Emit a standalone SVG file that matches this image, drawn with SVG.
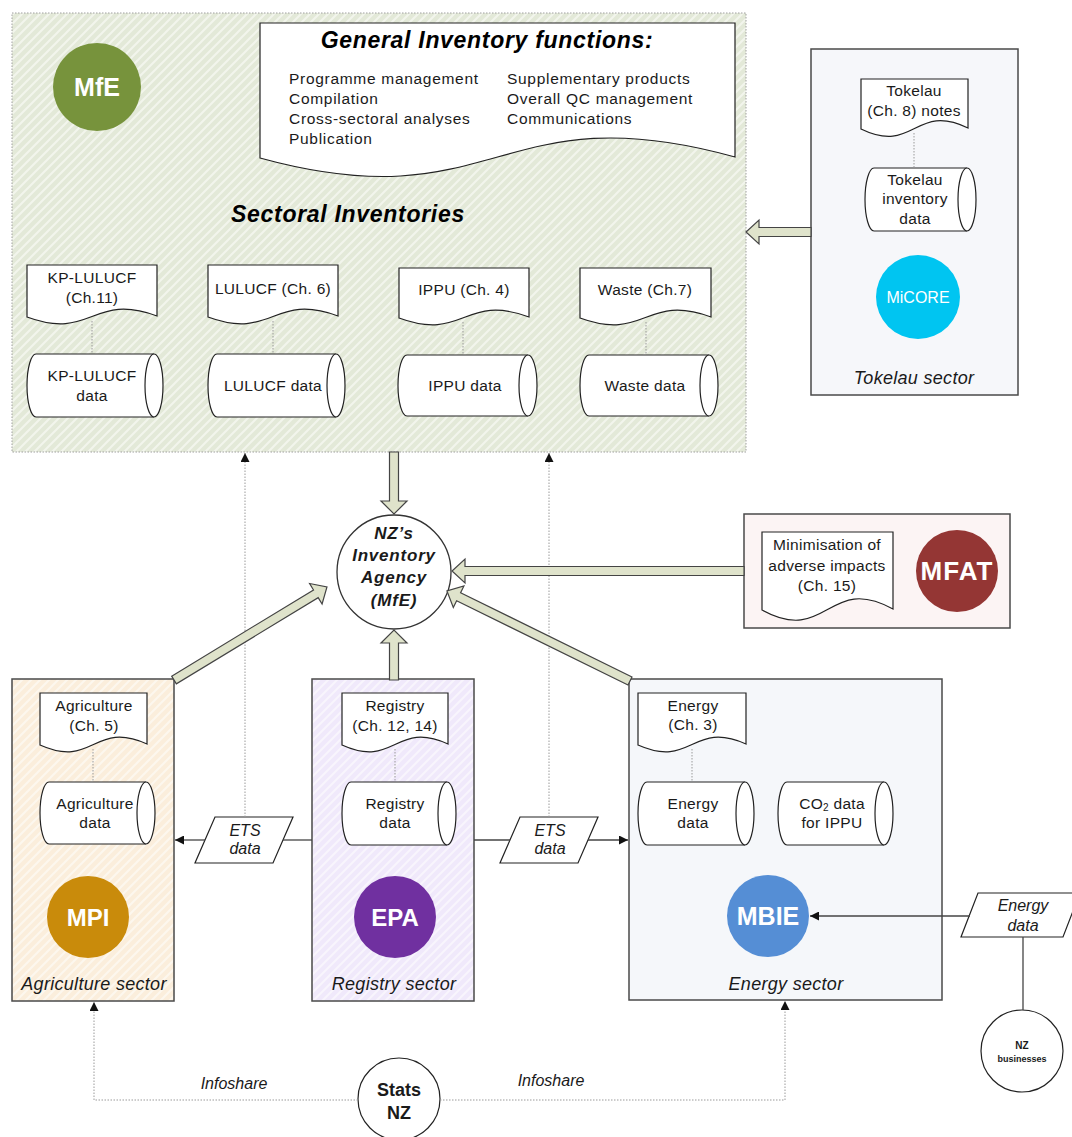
<svg xmlns="http://www.w3.org/2000/svg" width="1072" height="1137" viewBox="0 0 1072 1137">
<defs>
<pattern id="hatchG" patternUnits="userSpaceOnUse" width="9" height="9">
<rect width="9" height="9" fill="#e3e9d8"/>
<path d="M-2.25,2.25 l4.5,-4.5 M0,9 l9,-9 M6.75,11.25 l4.5,-4.5" stroke="#f2f5ec" stroke-width="2.2"/>
</pattern>
<pattern id="hatchO" patternUnits="userSpaceOnUse" width="9" height="9">
<rect width="9" height="9" fill="#fbeedc"/>
<path d="M-2.25,2.25 l4.5,-4.5 M0,9 l9,-9 M6.75,11.25 l4.5,-4.5" stroke="#fdf7ee" stroke-width="2.2"/>
</pattern>
<pattern id="hatchP" patternUnits="userSpaceOnUse" width="9" height="9">
<rect width="9" height="9" fill="#f0e9fb"/>
<path d="M-2.25,2.25 l4.5,-4.5 M0,9 l9,-9 M6.75,11.25 l4.5,-4.5" stroke="#f8f5fd" stroke-width="2.2"/>
</pattern>
<marker id="arr" viewBox="0 0 10 10" refX="10" refY="5" markerWidth="10" markerHeight="9" markerUnits="userSpaceOnUse" orient="auto">
<path d="M0,0 L10,5 L0,10 Z" fill="#111"/>
</marker>
<style>
text{font-family:"Liberation Sans",Arial,sans-serif;fill:#1a1a1a;text-anchor:middle;dominant-baseline:central}
.s{font-size:15.5px;letter-spacing:0.3px}
.l{font-size:15.5px;letter-spacing:0.7px;text-anchor:start}
.h{font-size:23px;font-weight:bold;font-style:italic;letter-spacing:0.7px;fill:#000}
.sec{font-size:18px;font-style:italic;letter-spacing:0.3px}
.it{font-size:16px;font-style:italic}
.org{font-weight:bold;fill:#fff;font-size:25px}
.box{stroke:#4a4a4a;stroke-width:1.5}
.shape{fill:#fff;stroke:#222;stroke-width:1.2}
.dot{stroke:#9a9a9a;stroke-width:1;stroke-dasharray:1.5 1.5;fill:none}
.ln{stroke:#444;stroke-width:1.3;fill:none}
.blk{fill:#dfe3cb;stroke:#444;stroke-width:1.2}
</style>
</defs>
<rect width="1072" height="1137" fill="#fff"/>

<g id="mfe-box">
<rect x="12" y="13" width="734" height="439" fill="url(#hatchG)" stroke="#a0a0a0" stroke-width="1" stroke-dasharray="1.5 1.5"/>
<text class="h" x="348" y="214">Sectoral Inventories</text>
</g>
<g id="mfe">
<circle cx="97" cy="87" r="44" fill="#77933c"/>
<text class="org" x="97" y="87">MfE</text>
</g>
<g id="general-functions">
<path class="shape" d="M260,23 H735 V157 C497,91 497,223 260,158 Z"/>
<text class="h" x="487" y="40">General Inventory functions:</text>
<text class="l" x="289" y="78">Programme management</text>
<text class="l" x="289" y="98">Compilation</text>
<text class="l" x="289" y="118">Cross-sectoral analyses</text>
<text class="l" x="289" y="138">Publication</text>
<text class="l" x="507" y="78">Supplementary products</text>
<text class="l" x="507" y="98">Overall QC management</text>
<text class="l" x="507" y="118">Communications</text>
</g>

<g id="kp-doc">
<path class="shape" d="M27,265 H157 V316 C92,292 92,341 27,317 Z"/>
<text class="s" x="92" y="277">KP-LULUCF</text>
<text class="s" x="92" y="297">(Ch.11)</text>
</g>
<g id="kp-data">
<path class="shape" d="M36,354 H154 A9,31.5 0 0 1 154,417 H36 A9,31.5 0 0 1 36,354 Z"/>
<path class="shape" d="M154,354 A9,31.5 0 0 0 154,417"/>
<text class="s" x="92" y="375">KP-LULUCF</text>
<text class="s" x="92" y="395">data</text>
</g>
<g id="lulucf-doc">
<path class="shape" d="M208,265 H338 V316 C273,292 273,341 208,317 Z"/>
<text class="s" x="273" y="288">LULUCF (Ch. 6)</text>
</g>
<g id="lulucf-data">
<path class="shape" d="M217,354 H336 A9,31.5 0 0 1 336,417 H217 A9,31.5 0 0 1 217,354 Z"/>
<path class="shape" d="M336,354 A9,31.5 0 0 0 336,417"/>
<text class="s" x="273" y="385">LULUCF data</text>
</g>
<g id="ippu-doc">
<path class="shape" d="M399,268 H529 V317 C464,293 464,342 399,318 Z"/>
<text class="s" x="464" y="289">IPPU (Ch. 4)</text>
</g>
<g id="ippu-data">
<path class="shape" d="M407,355 H528 A9,30.5 0 0 1 528,416 H407 A9,30.5 0 0 1 407,355 Z"/>
<path class="shape" d="M528,355 A9,30.5 0 0 0 528,416"/>
<text class="s" x="465" y="385">IPPU data</text>
</g>
<g id="waste-doc">
<path class="shape" d="M580,268 H711 V317 C645.5,293 645.5,342 580,318 Z"/>
<text class="s" x="645" y="289">Waste (Ch.7)</text>
</g>
<g id="waste-data">
<path class="shape" d="M589,355 H709 A9,30.5 0 0 1 709,416 H589 A9,30.5 0 0 1 589,355 Z"/>
<path class="shape" d="M709,355 A9,30.5 0 0 0 709,416"/>
<text class="s" x="645" y="385">Waste data</text>
</g>

<g id="tokelau-box">
<rect class="box" x="811" y="49" width="207" height="346" fill="#f6f7fa"/>
<text class="sec" x="914" y="378">Tokelau sector</text>
</g>
<g id="tokelau-doc">
<path class="shape" d="M861,79 H968 V128 C914.5,102 914.5,155 861,129 Z"/>
<text class="s" x="914" y="90">Tokelau</text>
<text class="s" x="914" y="110">(Ch. 8) notes</text>
</g>
<g id="tokelau-data">
<path class="shape" d="M874,168 H967 A9,31.5 0 0 1 967,231 H874 A9,31.5 0 0 1 874,168 Z"/>
<path class="shape" d="M967,168 A9,31.5 0 0 0 967,231"/>
<text class="s" x="915" y="179">Tokelau</text>
<text class="s" x="915" y="198">inventory</text>
<text class="s" x="915" y="218">data</text>
</g>
<g id="micore">
<circle cx="918" cy="297" r="42" fill="#00c5f1"/>
<text x="918" y="297" style="fill:#fff;font-size:16px">MiCORE</text>
</g>

<g id="agency">
<circle cx="394" cy="572" r="57" fill="#fff" stroke="#333" stroke-width="1.3"/>
<text x="394" y="533" style="font-size:17px;font-weight:bold;font-style:italic;letter-spacing:0.8px">NZ’s</text>
<text x="394" y="555" style="font-size:17px;font-weight:bold;font-style:italic;letter-spacing:0.8px">Inventory</text>
<text x="394" y="577" style="font-size:17px;font-weight:bold;font-style:italic;letter-spacing:0.8px">Agency</text>
<text x="394" y="600" style="font-size:17px;font-weight:bold;font-style:italic;letter-spacing:0.8px">(MfE)</text>
</g>

<g id="mfat-box">
<rect class="box" x="744" y="514" width="266" height="114" fill="#fcf4f4"/>
</g>
<g id="mfat-doc">
<path class="shape" d="M762,532 H893 V609 C827.5,573 827.5,646 762,610 Z"/>
<text class="s" x="827" y="544">Minimisation of</text>
<text class="s" x="827" y="565">adverse impacts</text>
<text class="s" x="827" y="585">(Ch. 15)</text>
</g>
<g id="mfat">
<circle cx="957" cy="571" r="41" fill="#943634"/>
<text class="org" x="957" y="571" style="font-size:26px;letter-spacing:1px">MFAT</text>
</g>

<g id="mpi-box">
<rect class="box" x="12" y="679" width="162" height="322" fill="url(#hatchO)"/>
<text class="sec" x="94" y="984">Agriculture sector</text>
</g>
<g id="agri-doc">
<path class="shape" d="M40,693 H147 V744 C93.5,720 93.5,769 40,745 Z"/>
<text class="s" x="94" y="705">Agriculture</text>
<text class="s" x="94" y="725">(Ch. 5)</text>
</g>
<g id="agri-data">
<path class="shape" d="M49,782 H146 A9,31 0 0 1 146,844 H49 A9,31 0 0 1 49,782 Z"/>
<path class="shape" d="M146,782 A9,31 0 0 0 146,844"/>
<text class="s" x="95" y="803">Agriculture</text>
<text class="s" x="95" y="822">data</text>
</g>
<g id="mpi">
<circle cx="88" cy="917" r="41" fill="#c98b0b"/>
<text class="org" x="88" y="917" style="font-size:24px">MPI</text>
</g>

<g id="epa-box">
<rect class="box" x="312" y="679" width="162" height="322" fill="url(#hatchP)"/>
<text class="sec" x="394" y="984">Registry sector</text>
</g>
<g id="registry-doc">
<path class="shape" d="M342,693 H448 V744 C395,720 395,769 342,745 Z"/>
<text class="s" x="395" y="705">Registry</text>
<text class="s" x="395" y="725">(Ch. 12, 14)</text>
</g>
<g id="registry-data">
<path class="shape" d="M351,782 H447 A9,31.5 0 0 1 447,845 H351 A9,31.5 0 0 1 351,782 Z"/>
<path class="shape" d="M447,782 A9,31.5 0 0 0 447,845"/>
<text class="s" x="395" y="803">Registry</text>
<text class="s" x="395" y="822">data</text>
</g>
<g id="epa">
<circle cx="395" cy="917" r="41" fill="#7030a0"/>
<text class="org" x="395" y="917" style="font-size:24px">EPA</text>
</g>

<g id="energy-box">
<rect class="box" x="629" y="679" width="313" height="321" fill="#f5f7fa"/>
<text class="sec" x="786" y="984">Energy sector</text>
</g>
<g id="energy-doc">
<path class="shape" d="M638,693 H746 V744 C692,720 692,769 638,745 Z"/>
<text class="s" x="693" y="705">Energy</text>
<text class="s" x="693" y="724">(Ch. 3)</text>
</g>
<g id="energy-data">
<path class="shape" d="M647,782 H745 A9,31.5 0 0 1 745,845 H647 A9,31.5 0 0 1 647,782 Z"/>
<path class="shape" d="M745,782 A9,31.5 0 0 0 745,845"/>
<text class="s" x="693" y="803">Energy</text>
<text class="s" x="693" y="822">data</text>
</g>
<g id="co2-data">
<path class="shape" d="M787,782 H884 A9,31.5 0 0 1 884,845 H787 A9,31.5 0 0 1 787,782 Z"/>
<path class="shape" d="M884,782 A9,31.5 0 0 0 884,845"/>
<text class="s" x="832" y="803">CO<tspan style="font-size:10px" dy="4">2</tspan><tspan dy="-4"> data</tspan></text>
<text class="s" x="832" y="822">for IPPU</text>
</g>
<g id="mbie">
<circle cx="768" cy="916" r="41" fill="#558ed5"/>
<text class="org" x="768" y="916" style="font-size:25px">MBIE</text>
</g>

<g id="ets-left">
<polygon class="shape" points="215,817 293,817 273,863 195,863"/>
<text class="it" x="245" y="830">ETS</text>
<text class="it" x="245" y="848">data</text>
</g>
<g id="ets-right">
<polygon class="shape" points="520,817 598,817 578,863 500,863"/>
<text class="it" x="550" y="830">ETS</text>
<text class="it" x="550" y="848">data</text>
</g>
<g id="energy-input">
<polygon class="shape" points="978,893 1080,893 1063,937 961,937"/>
<text class="it" x="1023" y="905">Energy</text>
<text class="it" x="1023" y="925">data</text>
</g>
<g id="nz-businesses">
<circle cx="1022" cy="1051" r="41" fill="#fff" stroke="#222" stroke-width="1.2"/>
<text x="1022" y="1045" style="font-size:10px;font-weight:bold">NZ</text>
<text x="1022" y="1059" style="font-size:9px;font-weight:bold">businesses</text>
</g>
<g id="stats-nz">
<circle cx="399" cy="1099" r="41" fill="#fff" stroke="#222" stroke-width="1.2"/>
<text x="399" y="1090" style="font-size:18px;font-weight:bold">Stats</text>
<text x="399" y="1113" style="font-size:18px;font-weight:bold">NZ</text>
</g>

<g id="connectors">
<path class="dot" d="M92,321 V354"/>
<path class="dot" d="M273,321 V354"/>
<path class="dot" d="M463,322 V355"/>
<path class="dot" d="M646,322 V355"/>
<path class="dot" d="M914,133 V168"/>
<path class="dot" d="M93,749 V782"/>
<path class="dot" d="M395,749 V782"/>
<path class="dot" d="M692,749 V782"/>
<path class="dot" d="M245,817 V453" marker-end="url(#arr)"/>
<path class="dot" d="M549,817 V453" marker-end="url(#arr)"/>
<path class="dot" d="M358,1100 H94 V1002" marker-end="url(#arr)"/>
<path class="dot" d="M440,1100 H785 V1001" marker-end="url(#arr)"/>
<path class="ln" d="M312,840 H283"/>
<path class="ln" d="M205,840 H175" marker-end="url(#arr)"/>
<path class="ln" d="M474,840 H510"/>
<path class="ln" d="M588,840 H628" marker-end="url(#arr)"/>
<path class="ln" d="M970,916 H810" marker-end="url(#arr)"/>
<path class="ln" d="M1023,937 V1010"/>
<g transform="translate(811,232) rotate(180)"><polygon class="blk" points="0,-4.5 52,-4.5 52,-12 65,0 52,12 52,4.5 0,4.5"/></g>
<g transform="translate(394,452) rotate(90)"><polygon class="blk" points="0,-4.5 49,-4.5 49,-13 62,0 49,13 49,4.5 0,4.5"/></g>
<g transform="translate(744,571) rotate(180)"><polygon class="blk" points="0,-4.5 279,-4.5 279,-12 292,0 279,12 279,4.5 0,4.5"/></g>
<g transform="translate(394,680) rotate(-90)"><polygon class="blk" points="0,-4.5 37,-4.5 37,-13 50,0 37,13 37,4.5 0,4.5"/></g>
<g transform="translate(174,680) rotate(-31.29)"><polygon class="blk" points="0,-4.5 166,-4.5 166,-12 179,0 166,12 166,4.5 0,4.5"/></g>
<g transform="translate(630,681) rotate(-153.81)"><polygon class="blk" points="0,-4.5 191,-4.5 191,-12 204,0 191,12 191,4.5 0,4.5"/></g>
</g>
<g id="labels">
<text class="it" x="234" y="1083">Infoshare</text>
<text class="it" x="551" y="1080">Infoshare</text>
</g>
</svg>
